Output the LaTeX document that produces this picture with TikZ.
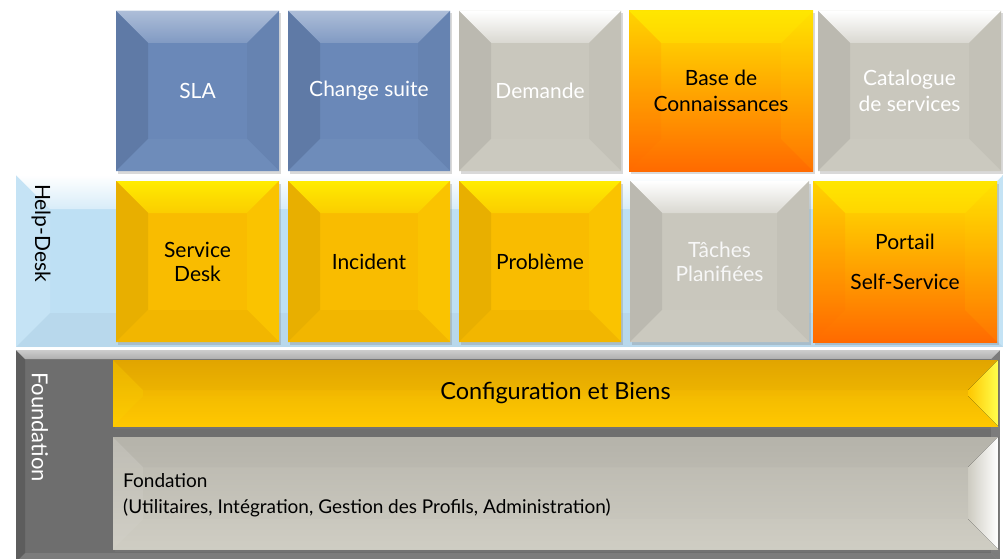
\documentclass[tikz,border=0pt]{standalone}
\usepackage{fontspec}
\setmainfont{Lato}
\usetikzlibrary{shadows}
\definecolor{bluebox}{HTML}{6A88B8}
\definecolor{graybox}{HTML}{C9C7BD}
\definecolor{yelbox}{HTML}{F9BC00}
\definecolor{orTop}{HTML}{FFE200}
\definecolor{orMid}{HTML}{FFB400}
\definecolor{orBot}{HTML}{FF6A00}
\definecolor{hdband}{HTML}{BEE0F4}
\definecolor{fdband}{HTML}{6E6E6E}
\definecolor{cfgTop}{HTML}{E6A900}
\definecolor{cfgBot}{HTML}{FFC700}
\definecolor{fonTop}{HTML}{B9B7AE}
\definecolor{fonBot}{HTML}{CDCBC1}
\newcommand\fbig{\fontsize{21}{25}\selectfont}
\newcommand\fmid{\fontsize{23.5}{26}\selectfont}
\newcommand\fsml{\fontsize{19}{26.5}\selectfont}
\newcommand\fside{\fontsize{22}{26}\selectfont}
\tikzset{
  ftop/.style={fill=white,fill opacity=.15},
  fleft/.style={fill=black,fill opacity=.06},
  fright/.style={fill=black,fill opacity=.02},
  fbot/.style={fill=black,fill opacity=.02},
  bev/.style={path picture={
    \path (path picture bounding box.north west) coordinate (NW)
          (path picture bounding box.north east) coordinate (NE)
          (path picture bounding box.south west) coordinate (SW)
          (path picture bounding box.south east) coordinate (SE);
    \path ([xshift=#1pt,yshift=-#1pt]NW) coordinate (iNW)
          ([xshift=-#1pt,yshift=-#1pt]NE) coordinate (iNE)
          ([xshift=#1pt,yshift=#1pt]SW) coordinate (iSW)
          ([xshift=-#1pt,yshift=#1pt]SE) coordinate (iSE);
    \fill[ftop] (NW)--(NE)--(iNE)--(iNW)--cycle;
    \fill[fleft] (NW)--(iNW)--(iSW)--(SW)--cycle;
    \fill[fright] (NE)--(SE)--(iSE)--(iNE)--cycle;
    \fill[fbot] (SW)--(iSW)--(iSE)--(SE)--cycle;
  }},
  tile/.style={inner sep=0pt, outer sep=0pt, align=center, bev=32,
    drop shadow={opacity=.3, shadow xshift=1.5pt, shadow yshift=-2.5pt},
    font=\fbig},
  blue/.style={tile, fill=bluebox, text=white,
    ftop/.style={top color=bluebox!55!white, bottom color=bluebox!85!white},
    fleft/.style={fill=bluebox!90!black},
    fright/.style={fill=bluebox!96!black},
    fbot/.style={fill=bluebox!97!white}},
  grey/.style={tile, fill=graybox, text=white,
    ftop/.style={top color=white, bottom color=graybox!70!white},
    fleft/.style={fill=graybox!93!black},
    fright/.style={fill=graybox!97!black},
    fbot/.style={fill=graybox!97!white}},
  yel/.style={tile, fill=yelbox, text=black,
    ftop/.style={top color=yellow!85!orange, bottom color=yelbox!75!yellow},
    fleft/.style={fill=yelbox!93!black},
    fright/.style={fill=yelbox!90!yellow},
    fbot/.style={fill=yelbox!97!black}},
  oran/.style={tile, top color=orTop, middle color=orMid, bottom color=orBot, text=black,
    ftop/.style={fill=yellow,fill opacity=.3}, fleft/.style={fill=orBot,fill opacity=.12},
    fright/.style={fill=yellow,fill opacity=.08}, fbot/.style={fill=black,fill opacity=.0}},
}
\begin{document}
\begin{tikzpicture}[x=1pt,y=-1pt]
\useasboundingbox (0,0) rectangle (1003,559);
% bands
\node[inner sep=0, outer sep=0, fill=hdband, minimum width=987pt, minimum height=172pt, bev=34,
  ftop/.style={top color=white, bottom color=hdband!60!white}, fleft/.style={fill=white,fill opacity=.12},
  fright/.style={fill=white,fill opacity=.1}, fbot/.style={fill=black,fill opacity=.03}] (hdb) at (509.5,261) {};
\node[inner sep=0, outer sep=0, fill=fdband, minimum width=984pt, minimum height=212pt, bev=9,
  ftop/.style={top color=fdband!35!white, bottom color=fdband!55!white}, fleft/.style={fill=black,fill opacity=.15},
  fright/.style={fill=white,fill opacity=.1}, fbot/.style={fill=white,fill opacity=.1}] (fdb) at (508,456) {};
\node[rotate=-90, font=\fbig, text=black] (hdl) at (41,233) {Help-Desk};
\node[rotate=-90, font=\fside, text=white] (fdl) at (40,427) {Foundation};
% top row
\node[blue, minimum width=163pt, minimum height=160pt] (sla) at (197.5,91) {SLA};
\node[blue, minimum width=162pt, minimum height=160pt] (chg) at (369,91) {Change suite};
\node[grey, minimum width=162pt, minimum height=160pt] (dem) at (540,91) {Demande};
\node[oran, minimum width=184pt, minimum height=160pt] (kb) at (721,91) {Base de\\[1pt]Connaissances};
\node[grey, minimum width=183pt, minimum height=160pt] (cat) at (909.5,91) {Catalogue\\[1pt]de services};
% second row
\node[yel, minimum width=163pt, minimum height=161pt] (sd) at (197.5,261.5) {Service\\[-1pt]Desk};
\node[yel, minimum width=162pt, minimum height=161pt] (inc) at (369,261.5) {Incident};
\node[yel, minimum width=162pt, minimum height=161pt] (pb) at (540,261.5) {Problème};
\node[grey, minimum width=179pt, minimum height=161pt, text=white!97!black] (tp) at (719.5,261.5) {Tâches\\[-1pt]Planifiées};
\node[oran, minimum width=184pt, minimum height=161pt] (ptl) at (905,261.5) {Portail\\[15pt]Self-Service};
% foundation bars
\node[tile, top color=cfgTop, bottom color=cfgBot, bev=30, font=\fmid, minimum width=885pt, minimum height=66pt,
  ftop/.style={fill=black,fill opacity=.02}, fleft/.style={fill=yellow,fill opacity=.12},
  fright/.style={left color=cfgBot, right color=yellow!70!white}, fbot/.style={fill=yellow,fill opacity=.04}] (cfg) at (555.5,393) {Configuration et Biens};
\node[tile, top color=fonTop, bottom color=fonBot, bev=30, minimum width=885pt, minimum height=112pt,
  ftop/.style={fill=black,fill opacity=.02}, fleft/.style={fill=white,fill opacity=.08},
  fright/.style={left color=fonBot, right color=white}, fbot/.style={fill=white,fill opacity=.04}] (fon) at (555.5,493) {};
\node[anchor=west, align=left, font=\fsml, inner sep=0pt] (fontxt) at (123,495) {Fondation\\(Utilitaires, Intégration, Gestion des Profils, Administration)};
\end{tikzpicture}
\end{document}
